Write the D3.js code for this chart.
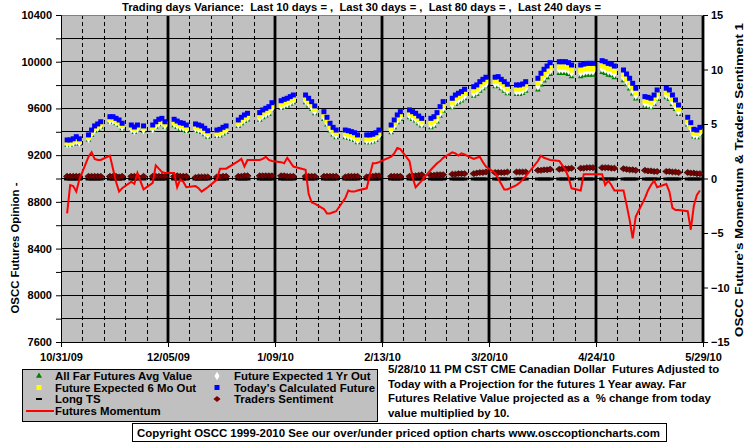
<!DOCTYPE html>
<html>
<head>
<meta charset="utf-8">
<script src="https://cdnjs.cloudflare.com/ajax/libs/d3/7.8.5/d3.min.js"></script>
<style>
body { margin: 0; background: #fff; }
svg { display: block; font-family: "Liberation Sans", Arial, sans-serif; font-weight: bold; }
svg text { white-space: pre; }
</style>
</head>
<body>
<script>
// trading days shown on the chart
var dates = [
  "11/02/09","11/03/09","11/04/09","11/05/09","11/06/09",
  "11/09/09","11/10/09","11/11/09","11/12/09","11/13/09",
  "11/16/09","11/17/09","11/18/09","11/19/09","11/20/09",
  "11/23/09","11/24/09","11/25/09","11/27/09",
  "11/30/09","12/01/09","12/02/09","12/03/09","12/04/09",
  "12/07/09","12/08/09","12/09/09","12/10/09","12/11/09",
  "12/14/09","12/15/09","12/16/09","12/17/09","12/18/09",
  "12/21/09","12/22/09","12/23/09","12/24/09",
  "12/28/09","12/29/09","12/30/09","12/31/09",
  "01/04/10","01/05/10","01/06/10","01/07/10","01/08/10",
  "01/11/10","01/12/10","01/13/10","01/14/10","01/15/10",
  "01/19/10","01/20/10","01/21/10","01/22/10",
  "01/25/10","01/26/10","01/27/10","01/28/10","01/29/10",
  "02/01/10","02/02/10","02/03/10","02/04/10","02/05/10",
  "02/08/10","02/09/10","02/10/10","02/11/10","02/12/10",
  "02/16/10","02/17/10","02/18/10","02/19/10",
  "02/22/10","02/23/10","02/24/10","02/25/10","02/26/10",
  "03/01/10","03/02/10","03/03/10","03/04/10","03/05/10",
  "03/08/10","03/09/10","03/10/10","03/11/10","03/12/10",
  "03/15/10","03/16/10","03/17/10","03/18/10","03/19/10",
  "03/22/10","03/23/10","03/24/10","03/25/10","03/26/10",
  "03/29/10","03/30/10","03/31/10","04/01/10",
  "04/05/10","04/06/10","04/07/10","04/08/10","04/09/10",
  "04/12/10","04/13/10","04/14/10","04/15/10","04/16/10",
  "04/19/10","04/20/10","04/21/10","04/22/10","04/23/10",
  "04/26/10","04/27/10","04/28/10","04/29/10","04/30/10",
  "05/03/10","05/04/10","05/05/10","05/06/10","05/07/10",
  "05/10/10","05/11/10","05/12/10","05/13/10","05/14/10",
  "05/17/10","05/18/10","05/19/10","05/20/10","05/21/10",
  "05/24/10","05/25/10","05/26/10","05/27/10","05/28/10"
];

// Today's Calculated Future (left axis)
var todays = [
  9330,9330,9340,9358,9340, 9373,9415,9450,9467,9486, 9529,9529,9515,9501,9473,
  9458,9441,9458,9450, 9458,9486,9507,9515,9486, 9507,9492,9478,9473,9458,
  9467,9458,9450,9430,9409, 9415,9421,9438,9450, 9501,9524,9544,9558,
  9564,9587,9601,9615,9649, 9666,9678,9687,9701,9715, 9715,9687,9658,9621,
  9572,9524,9473,9438,9415, 9415,9409,9401,9392,9373, 9373,9373,9379,9392,9415,
  9458,9501,9544,9572, 9587,9572,9558,9535,9515, 9515,9529,9564,9615,9658,
  9687,9715,9730,9744,9764, 9786,9801,9829,9849,9867, 9867,9872,9849,9829,9807,
  9801,9801,9809,9829, 9858,9901,9935,9963,9992, 10000,10000,10000,9992,9972,
  9972,9980,9986,9986,9986, 10009,10000,9986,9980,9963, 9929,9895,9858,9815,9773,
  9701,9695,9687,9715,9758, 9773,9758,9715,9672,9629, 9524,9478,9421,9415,9438
];

// Future Expected 6 Mo Out
var sixMonth = [
  9310,9310,9320,9338,9320, 9353,9395,9430,9447,9466, 9509,9509,9495,9481,9453,
  9438,9421,9438,9430, 9438,9466,9487,9495,9466, 9482,9467,9453,9448,9433,
  9442,9433,9425,9405,9384, 9390,9396,9413,9425, 9476,9499,9519,9533,
  9534,9557,9571,9585,9619, 9636,9648,9657,9671,9685, 9685,9657,9628,9591,
  9542,9494,9443,9408,9385, 9385,9379,9371,9362,9343, 9343,9343,9349,9362,9385,
  9428,9471,9514,9542, 9557,9542,9528,9505,9485, 9480,9494,9529,9580,9623,
  9652,9680,9695,9709,9729, 9751,9766,9794,9814,9832, 9832,9837,9814,9794,9772,
  9766,9766,9774,9794, 9813,9856,9890,9918,9947, 9955,9955,9955,9947,9927,
  9927,9935,9941,9941,9941, 9964,9955,9941,9935,9918, 9889,9855,9818,9775,9733,
  9666,9660,9652,9680,9723, 9738,9723,9680,9637,9594, 9494,9448,9391,9385,9408
];

// Future Expected 1 Yr Out
var oneYear = [
  9295,9295,9305,9323,9305, 9338,9380,9415,9432,9451, 9494,9494,9480,9466,9438,
  9423,9406,9423,9415, 9423,9451,9472,9480,9451, 9467,9452,9438,9433,9418,
  9427,9418,9410,9390,9369, 9375,9381,9398,9410, 9461,9484,9504,9518,
  9514,9537,9551,9565,9599, 9616,9628,9637,9651,9665, 9665,9637,9608,9571,
  9522,9474,9423,9388,9365, 9365,9359,9351,9342,9323, 9323,9323,9329,9342,9365,
  9408,9451,9494,9522, 9537,9522,9508,9485,9465, 9455,9469,9504,9555,9598,
  9627,9655,9670,9684,9704, 9726,9741,9769,9789,9807, 9807,9812,9789,9769,9747,
  9741,9741,9749,9769, 9788,9831,9865,9893,9922, 9930,9930,9930,9922,9902,
  9902,9910,9916,9916,9916, 9939,9930,9916,9910,9893, 9864,9830,9793,9750,9708,
  9641,9635,9627,9655,9698, 9713,9698,9655,9612,9569, 9474,9428,9371,9365,9388
];

// All Far Futures Avg Value
var farAvg = [
  9285,9285,9295,9313,9295, 9328,9370,9405,9422,9441, 9484,9484,9470,9456,9428,
  9413,9396,9413,9405, 9413,9441,9462,9470,9441, 9452,9437,9423,9418,9403,
  9412,9403,9395,9375,9354, 9360,9366,9383,9395, 9446,9469,9489,9503,
  9499,9522,9536,9550,9584, 9601,9613,9622,9636,9650, 9650,9622,9593,9556,
  9507,9459,9408,9373,9350, 9350,9344,9336,9327,9308, 9308,9308,9314,9327,9350,
  9393,9436,9479,9507, 9522,9507,9493,9470,9450, 9435,9449,9484,9535,9578,
  9607,9635,9650,9664,9684, 9706,9721,9749,9769,9787, 9787,9792,9769,9749,9727,
  9721,9721,9729,9749, 9758,9801,9835,9863,9892, 9900,9900,9900,9892,9872,
  9872,9880,9886,9886,9886, 9909,9900,9886,9880,9863, 9839,9805,9768,9725,9683,
  9621,9615,9607,9635,9678, 9693,9678,9635,9592,9549, 9459,9413,9356,9350,9373
];

// Traders Sentiment (right axis)
var sentiment = [
  .15,.15,.15,.15,.15, .15,.15,.15,.15,.15, .15,.15,.15,.1,.15,
  .15,.15,.15,.15, .15,.15,.15,.15,.15, .15,.2,.15,.15,.15,
  .05,.1,.1,.1,.1, .1,.1,.15,.15, .15,.15,.2,.2,
  .2,.2,.2,.2,.2, .2,.2,.15,.15,.15, .15,.15,.15,.15,
  .15,.15,.15,.15,.15, .1,.15,.15,.15,.15, .1,.15,.15,.2,.2,
  .15,.15,.15,.15, .15,.2,.2,.25,.3, .25,.25,.3,.3,.3,
  .35,.35,.4,.4,.4, .4,.45,.5,.5,.55, .5,.5,.5,.5,.55,
  .55,.55,.55,.55, .7,.7,.75,.75,.8, .8,.85,.85,.85,.9,
  .9,.9,.95,.95,.95, .95,.95,.95,.9,.9, .85,.8,.75,.75,.7,
  .7,.65,.65,.6,.6, .6,.6,.55,.55,.5, .5,.45,.45,.4,.4
];

// Long TS (right axis)
var longTS = dates.map(function () { return 0; });

// Futures Momentum (right axis)
var momentum = [
  -3.2,-0.6,-0.7,-1.2,-0.1, 2.0,2.4,1.8,1.7,1.7, 2.1,0.9,-0.3,-1.2,-0.9,
  -0.3,-0.5,0.5,-1.0, -0.4,1.2,0.9,0.6,0.5, 0.5,-0.8,-0.1,-0.3,-0.8,
  -0.7,-0.9,-1.2,-1.0,-0.8, -0.1,0.9,0.9,0.9, 1.6,1.8,1.1,1.7,
  1.7,1.8,2.0,1.7,1.6, 1.5,1.4,1.9,1.5,1.1, 0.8,-1.4,-2.2,-2.3,
  -2.8,-3.2,-3.2,-3.1,-3.0, -1.8,-1.1,-1.2,-1.2,-1.1, -0.9,0.3,1.4,1.4,1.5,
  2.0,2.3,2.8,2.7, 1.6,0.1,-0.8,-0.5,-0.2, 0.8,1.1,1.4,1.6,1.9,
  2.4,2.3,2.1,2.3,2.2, 1.8,1.9,2.0,1.5,1.1, 0.5,0.0,-0.5,-1.0,-1.0,
  -0.6,-0.4,-0.1,0.2, 1.6,2.1,1.9,1.8,1.7, 1.6,1.2,0.8,0.1,-0.9,
  -1.1,0.4,0.4,0.4,0.4, 0.4,-0.6,-0.2,-0.6,-1.1, -1.1,-2.4,-3.8,-5.5,-3.5,
  -1.8,-1.1,-0.6,-0.2,-0.8, -0.5,-1.2,-2.7,-2.9,-2.9, -3.0,-4.7,-2.5,-1.5,-1.1
];

var axisDates = ["10/31/09","12/05/09","01/09/10","02/13/10","03/20/10","04/24/10","05/29/10"];
var leftTicks = d3.range(7600, 10401, 200);
var rightTicks = [-15, -10, -5, 0, 5, 10, 15];

var titleText = "Trading days Variance:  Last 10 days = ,  Last 30 days = ,  Last 80 days = ,  Last 240 days =";
var noteLines = [
  "5/28/10 11 PM CST CME Canadian Dollar  Futures Adjusted to",
  "Today with a Projection for the futures 1 Year away. Far",
  "Futures Relative Value projected as a  % change from today",
  "value multiplied by 10."
];
var copyText = "Copyright OSCC 1999-2010 See our over/under priced option charts www.osccoptioncharts.com";

var width = 755, height = 446;
var pl = 61, pr = 703, pt = 15, pb = 342;
var fs = 11.4;

var parse = d3.timeParse("%m/%d/%y");
var fmt = d3.timeFormat("%-m/%d/%y");

var rows = dates.map(function (d, i) {
  return { date: parse(d), todays: todays[i], six: sixMonth[i], year: oneYear[i],
           far: farAvg[i], sent: sentiment[i], ts: longTS[i], mom: momentum[i] };
});

var x = d3.scaleTime().domain([parse(axisDates[0]), parse(axisDates[axisDates.length - 1])]).range([pl, pr]);
var yL = d3.scaleLinear().domain([7600, 10400]).range([pb, pt]);
var yR = d3.scaleLinear().domain([-15, 15]).range([pb, pt]);

var svg = d3.select("body").append("svg")
    .attr("width", width)
    .attr("height", height);

svg.append("rect").attr("width", width).attr("height", height).attr("fill", "#fff");

svg.append("text")
    .attr("x", 122).attr("y", 11)
    .attr("font-size", fs)
    .attr("textLength", 479).attr("lengthAdjust", "spacingAndGlyphs")
    .text(titleText);

// plot area
svg.append("rect")
    .attr("x", pl).attr("y", pt)
    .attr("width", pr - pl).attr("height", pb - pt)
    .attr("fill", "#c0c0c0");

// horizontal grid
svg.append("g").selectAll("line")
    .data(leftTicks.slice(1, -1))
    .enter().append("line")
    .attr("x1", pl).attr("x2", pr)
    .attr("y1", function (d) { return yL(d); })
    .attr("y2", function (d) { return yL(d); })
    .attr("stroke", "#000").attr("stroke-width", 1)
    .attr("shape-rendering", "crispEdges");

// weekly vertical grid, dashed between labelled dates
var weeks = d3.timeSaturday.range(x.domain()[0], x.domain()[1]).slice(1);
var major = axisDates.map(function (d) { return +parse(d); });
svg.append("g").selectAll("line")
    .data(weeks.filter(function (d) { return major.indexOf(+d) < 0; }))
    .enter().append("line")
    .attr("x1", function (d) { return Math.round(x(d)) + 0.5; })
    .attr("x2", function (d) { return Math.round(x(d)) + 0.5; })
    .attr("y1", pt).attr("y2", pb)
    .attr("stroke", "#000").attr("stroke-dasharray", "4,3");

svg.append("g").selectAll("line")
    .data(axisDates.slice(1).map(parse))
    .enter().append("line")
    .attr("x1", function (d) { return x(d); })
    .attr("x2", function (d) { return x(d); })
    .attr("y1", pt).attr("y2", pb)
    .attr("stroke", "#000").attr("stroke-width", 2.8);

svg.append("line")
    .attr("x1", pl).attr("x2", pr).attr("y1", pt + 0.5).attr("y2", pt + 0.5)
    .attr("stroke", "#808080");

// axes
var gl = svg.append("g")
    .attr("transform", "translate(" + pl + ",0)")
    .call(d3.axisLeft(yL).tickValues(leftTicks).tickSize(5).tickPadding(4)
        .tickFormat(function (d) { return d % 400 === 0 ? d : ""; }));

var gr = svg.append("g")
    .attr("transform", "translate(" + pr + ",0)")
    .call(d3.axisRight(yR).tickValues(rightTicks).tickSize(5).tickPadding(3));

var gb = svg.append("g")
    .attr("transform", "translate(0," + pb + ")")
    .call(d3.axisBottom(x).tickValues(axisDates.map(parse)).tickSize(5).tickPadding(6).tickFormat(fmt));

[gl, gr, gb].forEach(function (g) {
  g.selectAll("text").attr("font-size", 11).attr("font-weight", "bold")
      .attr("font-family", "Liberation Sans, Arial, sans-serif").attr("fill", "#000");
  g.selectAll("path, line").attr("stroke", "#000");
});

svg.append("text")
    .attr("transform", "translate(19,248) rotate(-90)")
    .attr("text-anchor", "middle").attr("font-size", fs)
    .text("OSCC Futures Opinion -");

svg.append("text")
    .attr("transform", "translate(743,180) rotate(-90)")
    .attr("text-anchor", "middle").attr("font-size", fs)
    .attr("textLength", 314).attr("lengthAdjust", "spacingAndGlyphs")
    .text("OSCC Future's Momentum & Traders Sentiment 1");

// series
var plot = svg.append("g");

plot.selectAll(".far").data(rows).enter().append("path")
    .attr("class", "far")
    .attr("d", d3.symbol(d3.symbolTriangle, 14))
    .attr("transform", function (d) { return "translate(" + x(d.date) + "," + yL(d.far) + ")"; })
    .attr("fill", "#008000");

plot.selectAll(".year").data(rows).enter().append("path")
    .attr("class", "year")
    .attr("d", d3.symbol(d3.symbolDiamond, 20))
    .attr("transform", function (d) { return "translate(" + x(d.date) + "," + yL(d.year) + ")"; })
    .attr("fill", "#fff");

plot.selectAll(".six").data(rows).enter().append("rect")
    .attr("class", "six")
    .attr("x", function (d) { return x(d.date) - 2.5; })
    .attr("y", function (d) { return yL(d.six) - 2.5; })
    .attr("width", 5).attr("height", 5)
    .attr("fill", "#ffff00");

plot.selectAll(".today").data(rows).enter().append("rect")
    .attr("class", "today")
    .attr("x", function (d) { return x(d.date) - 2.5; })
    .attr("y", function (d) { return yL(d.todays) - 2.5; })
    .attr("width", 5).attr("height", 5)
    .attr("fill", "#0000ff");

plot.selectAll(".ts").data(rows).enter().append("rect")
    .attr("class", "ts")
    .attr("x", function (d) { return x(d.date) - 3; })
    .attr("y", function (d) { return yR(d.ts) - 1; })
    .attr("width", 6).attr("height", 3)
    .attr("fill", "#000");

var diamond = "M-3.6,0L0,-3L3.6,0L0,3Z";
plot.selectAll(".sent").data(rows).enter().append("path")
    .attr("class", "sent")
    .attr("d", diamond)
    .attr("transform", function (d) { return "translate(" + x(d.date) + "," + (yR(d.sent) - 0.5) + ")"; })
    .attr("fill", "#800000").attr("stroke", "#2a0000").attr("stroke-width", 0.7);

plot.append("path")
    .datum(rows)
    .attr("d", d3.line().x(function (d) { return x(d.date); }).y(function (d) { return yR(d.mom); }))
    .attr("fill", "none").attr("stroke", "#ff0000").attr("stroke-width", 2);

// legend
var lg = svg.append("g");
lg.append("rect").attr("x", 22.5).attr("y", 369.5).attr("width", 355).attr("height", 52)
    .attr("fill", "#c0c0c0").attr("stroke", "#000");

var legendItems = [
  { label: "All Far Futures Avg Value", col: 0, row: 0, kind: "tri", color: "#008000" },
  { label: "Future Expected 1 Yr Out", col: 1, row: 0, kind: "dia", color: "#fff" },
  { label: "Future Expected 6 Mo Out", col: 0, row: 1, kind: "sq", color: "#ffff00" },
  { label: "Today's Calculated Future", col: 1, row: 1, kind: "sq", color: "#0000ff" },
  { label: "Long TS", col: 0, row: 2, kind: "dash", color: "#000" },
  { label: "Traders Sentiment", col: 1, row: 2, kind: "sent", color: "#800000" },
  { label: "Futures Momentum", col: 0, row: 3, kind: "line", color: "#ff0000" }
];
var colMark = [39, 217], colText = [55, 234], rowY = [376, 387.5, 399, 411];

legendItems.forEach(function (it) {
  var mx = colMark[it.col], my = rowY[it.row];
  if (it.kind === "tri") {
    lg.append("path").attr("d", d3.symbol(d3.symbolTriangle, 16)).attr("transform", "translate(" + mx + "," + my + ")").attr("fill", it.color);
  } else if (it.kind === "dia") {
    lg.append("path").attr("d", d3.symbol(d3.symbolDiamond, 22)).attr("transform", "translate(" + mx + "," + my + ")").attr("fill", it.color);
  } else if (it.kind === "sq") {
    lg.append("rect").attr("x", mx - 2.5).attr("y", my - 2.5).attr("width", 5).attr("height", 5).attr("fill", it.color);
  } else if (it.kind === "dash") {
    lg.append("rect").attr("x", mx - 3).attr("y", my - 1).attr("width", 6).attr("height", 2).attr("fill", it.color);
  } else if (it.kind === "sent") {
    lg.append("path").attr("d", diamond).attr("transform", "translate(" + mx + "," + my + ")").attr("fill", it.color);
  } else {
    lg.append("line").attr("x1", 26).attr("x2", 54).attr("y1", my).attr("y2", my).attr("stroke", it.color).attr("stroke-width", 2);
  }
  lg.append("text").attr("x", colText[it.col]).attr("y", my + 4).attr("font-size", fs).text(it.label);
});

svg.append("g").selectAll("text")
    .data(noteLines)
    .enter().append("text")
    .attr("x", 388)
    .attr("y", function (d, i) { return 373 + i * 14.5; })
    .attr("font-size", fs)
    .text(function (d) { return d; });

svg.append("rect").attr("x", 132.5).attr("y", 423.5).attr("width", 534).attr("height", 18)
    .attr("fill", "#fff").attr("stroke", "#000");
svg.append("text").attr("x", 137).attr("y", 437).attr("font-size", fs)
    .attr("textLength", 523).attr("lengthAdjust", "spacingAndGlyphs")
    .text(copyText);
</script>
</body>
</html>
